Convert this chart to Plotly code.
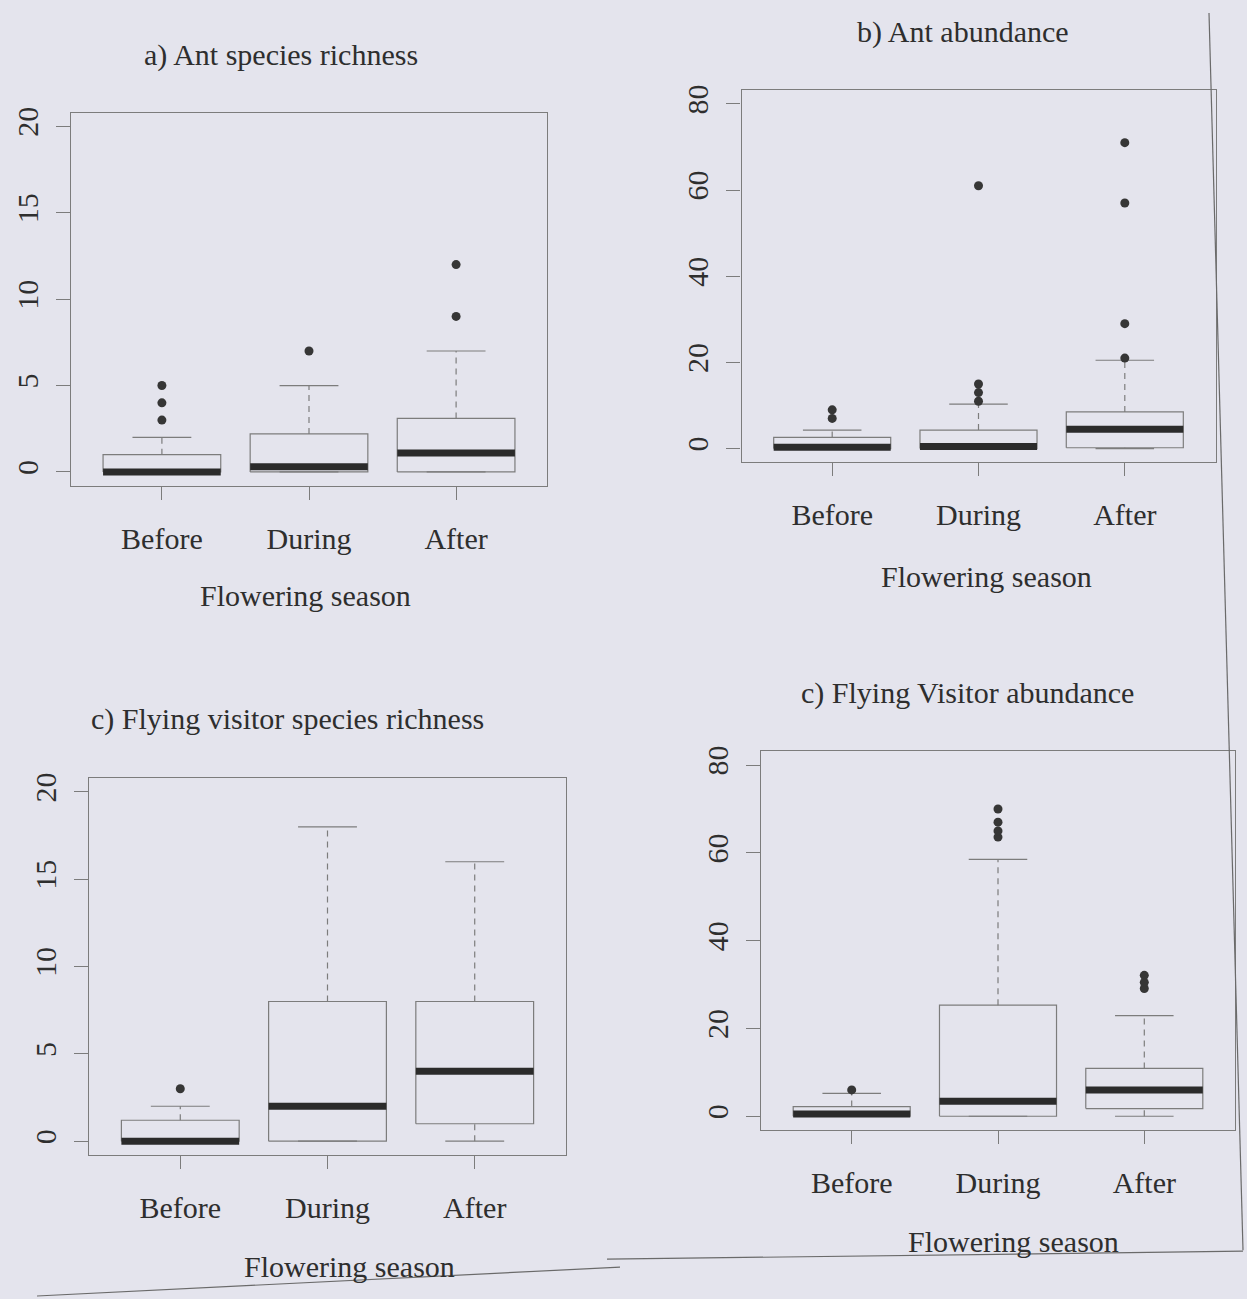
import plotly.graph_objects as go

# ---------------------------------------------------------------------------
# Data: five-number summaries (whisker ends, quartiles, median) and outliers
# ---------------------------------------------------------------------------
CATEGORIES = ["Before", "During", "After"]

# a) Ant species richness
ant_rich_lower = [0, 0, 0]
ant_rich_q1 = [0, 0, 0]
ant_rich_median = [0, 0.3, 1.1]
ant_rich_q3 = [1, 2.2, 3.1]
ant_rich_upper = [2, 5, 7]
ant_rich_outliers = [[3, 4, 5], [7], [9, 12]]

# b) Ant abundance
ant_abund_lower = [0, 0, 0]
ant_abund_q1 = [0, 0, 0.2]
ant_abund_median = [0.3, 0.5, 4.5]
ant_abund_q3 = [2.6, 4.3, 8.5]
ant_abund_upper = [4.3, 10.3, 20.5]
ant_abund_outliers = [[7, 9], [11, 13, 15, 61], [21, 29, 57, 71]]

# c) Flying visitor species richness
fly_rich_lower = [0, 0, 0]
fly_rich_q1 = [0, 0, 1]
fly_rich_median = [0, 2, 4]
fly_rich_q3 = [1.2, 8, 8]
fly_rich_upper = [2, 18, 16]
fly_rich_outliers = [[3], [], []]

# c) Flying Visitor abundance
fly_abund_lower = [0, 0, 0]
fly_abund_q1 = [0, 0, 1.75]
fly_abund_median = [0.5, 3.4, 6]
fly_abund_q3 = [2.2, 25.3, 10.9]
fly_abund_upper = [5.2, 58.5, 22.9]
fly_abund_outliers = [[6], [63.6, 65, 67, 70], [29.1, 30.5, 32.1]]

RICH_TICKS = [0, 5, 10, 15, 20]
ABUND_TICKS = [0, 20, 40, 60, 80]
X_LABEL = "Flowering season"

# ---------------------------------------------------------------------------
# Styling / layout
# ---------------------------------------------------------------------------
W, H = 1247, 1299
BG = "#e4e4ed"
FONT = "Liberation Serif, Times New Roman, serif"
TEXT = "#2e2e2e"
THIN = "#7c7c7c"
DARK = "#2b2b2b"
HALF_BOX = 0.4
HALF_CAP = 0.2

panels = [
    dict(title="a) Ant species richness",
         stats=(ant_rich_lower, ant_rich_q1, ant_rich_median, ant_rich_q3, ant_rich_upper),
         outliers=ant_rich_outliers, ticks=RICH_TICKS, yrange=[-0.8, 20.8],
         frame=(70.7, 107, 547.3, 482), title_xy=(281, 49), xlab_xy=(305, 592)),
    dict(title="b) Ant abundance",
         stats=(ant_abund_lower, ant_abund_q1, ant_abund_median, ant_abund_q3, ant_abund_upper),
         outliers=ant_abund_outliers, ticks=ABUND_TICKS, yrange=[-3.2, 83.2],
         frame=(741.5, 84.5, 1215.5, 458.5), title_xy=(963, 26), xlab_xy=(986, 573)),
    dict(title="c) Flying visitor species richness",
         stats=(fly_rich_lower, fly_rich_q1, fly_rich_median, fly_rich_q3, fly_rich_upper),
         outliers=fly_rich_outliers, ticks=RICH_TICKS, yrange=[-0.8, 20.8],
         frame=(89, 775.5, 566, 1154.5), title_xy=(287, 716), xlab_xy=(349, 1266)),
    dict(title="c) Flying Visitor abundance",
         stats=(fly_abund_lower, fly_abund_q1, fly_abund_median, fly_abund_q3, fly_abund_upper),
         outliers=fly_abund_outliers, ticks=ABUND_TICKS, yrange=[-3.2, 83.2],
         frame=(761, 748.5, 1235, 1129.5), title_xy=(967, 690), xlab_xy=(1013, 1241)),
]

fig = go.Figure()
annotations = []
layout_axes = {}

for k, p in enumerate(panels, start=1):
    sfx = "" if k == 1 else str(k)
    xref, yref = "x" + sfx, "y" + sfx
    lower, q1, med, q3, upper = p["stats"]

    box_x, box_y, med_x, med_y = [], [], [], []
    wh_x, wh_y, cap_x, cap_y = [], [], [], []
    out_x, out_y = [], []
    for i in range(len(CATEGORIES)):
        c = i + 1
        box_x += [c - HALF_BOX, c + HALF_BOX, c + HALF_BOX, c - HALF_BOX, c - HALF_BOX, None]
        box_y += [q1[i], q1[i], q3[i], q3[i], q1[i], None]
        med_x += [c - HALF_BOX, c + HALF_BOX, None]
        med_y += [med[i], med[i], None]
        wh_x += [c, c, None, c, c, None]
        wh_y += [q3[i], upper[i], None, lower[i], q1[i], None]
        cap_x += [c - HALF_CAP, c + HALF_CAP, None, c - HALF_CAP, c + HALF_CAP, None]
        cap_y += [upper[i], upper[i], None, lower[i], lower[i], None]
        for v in p["outliers"][i]:
            out_x.append(c)
            out_y.append(v)

    common = dict(xaxis=xref, yaxis=yref, showlegend=False, hoverinfo="skip")
    fig.add_trace(go.Scatter(x=wh_x, y=wh_y, mode="lines",
                             line=dict(color=THIN, width=1.2, dash="6px,5px"), **common))
    fig.add_trace(go.Scatter(x=cap_x, y=cap_y, mode="lines",
                             line=dict(color=THIN, width=1.2), **common))
    fig.add_trace(go.Scatter(x=box_x, y=box_y, mode="lines",
                             line=dict(color=THIN, width=1.2), **common))
    fig.add_trace(go.Scatter(x=med_x, y=med_y, mode="lines",
                             line=dict(color=DARK, width=7), **common))
    fig.add_trace(go.Scatter(x=out_x, y=out_y, mode="markers",
                             marker=dict(color="#363636", size=9), **common))

    l, t, r, b = p["frame"]
    axis_common = dict(showline=True, mirror=True, linecolor=THIN, linewidth=1.2,
                       ticks="outside", tickcolor=THIN, tickwidth=1.2,
                       showgrid=False, zeroline=False, fixedrange=True,
                       tickfont=dict(family=FONT, size=30, color=TEXT))
    layout_axes["xaxis" + sfx] = dict(
        domain=[l / W, r / W], range=[0.38, 3.62], anchor=yref,
        tickmode="array", tickvals=[1, 2, 3], ticktext=CATEGORIES,
        ticklen=13, ticklabelstandoff=13, **axis_common)
    layout_axes["yaxis" + sfx] = dict(
        domain=[1 - b / H, 1 - t / H], range=p["yrange"], anchor=xref,
        tickmode="array", tickvals=p["ticks"], tickangle=-90,
        ticklen=14, ticklabelstandoff=6, **axis_common)

    tx, ty = p["title_xy"]
    annotations.append(dict(text=p["title"], x=tx / W, y=1 - ty / H, xref="paper", yref="paper",
                            xanchor="center", yanchor="middle", showarrow=False,
                            font=dict(family=FONT, size=30, color=TEXT)))
    lx, ly = p["xlab_xy"]
    annotations.append(dict(text=X_LABEL, x=lx / W, y=1 - ly / H, xref="paper", yref="paper",
                            xanchor="center", yanchor="middle", showarrow=False,
                            font=dict(family=FONT, size=30, color=TEXT)))

# page rules around the figure block
rule = dict(type="line", xref="paper", yref="paper", line=dict(color="#6a6a6a", width=1.2))
shapes = [
    dict(x0=1209 / W, y0=1 - 7 / H, x1=1243 / W, y1=1 - 1250 / H, **rule),
    dict(x0=37 / W, y0=1 - 1296 / H, x1=620 / W, y1=1 - 1267 / H, **rule),
    dict(x0=607 / W, y0=1 - 1259 / H, x1=1243 / W, y1=1 - 1251 / H, **rule),
]

fig.update_layout(
    width=W, height=H, margin=dict(l=0, r=0, t=0, b=0),
    paper_bgcolor=BG, plot_bgcolor=BG,
    annotations=annotations, shapes=shapes,
    **layout_axes,
)

fig.write_html("out.html")
